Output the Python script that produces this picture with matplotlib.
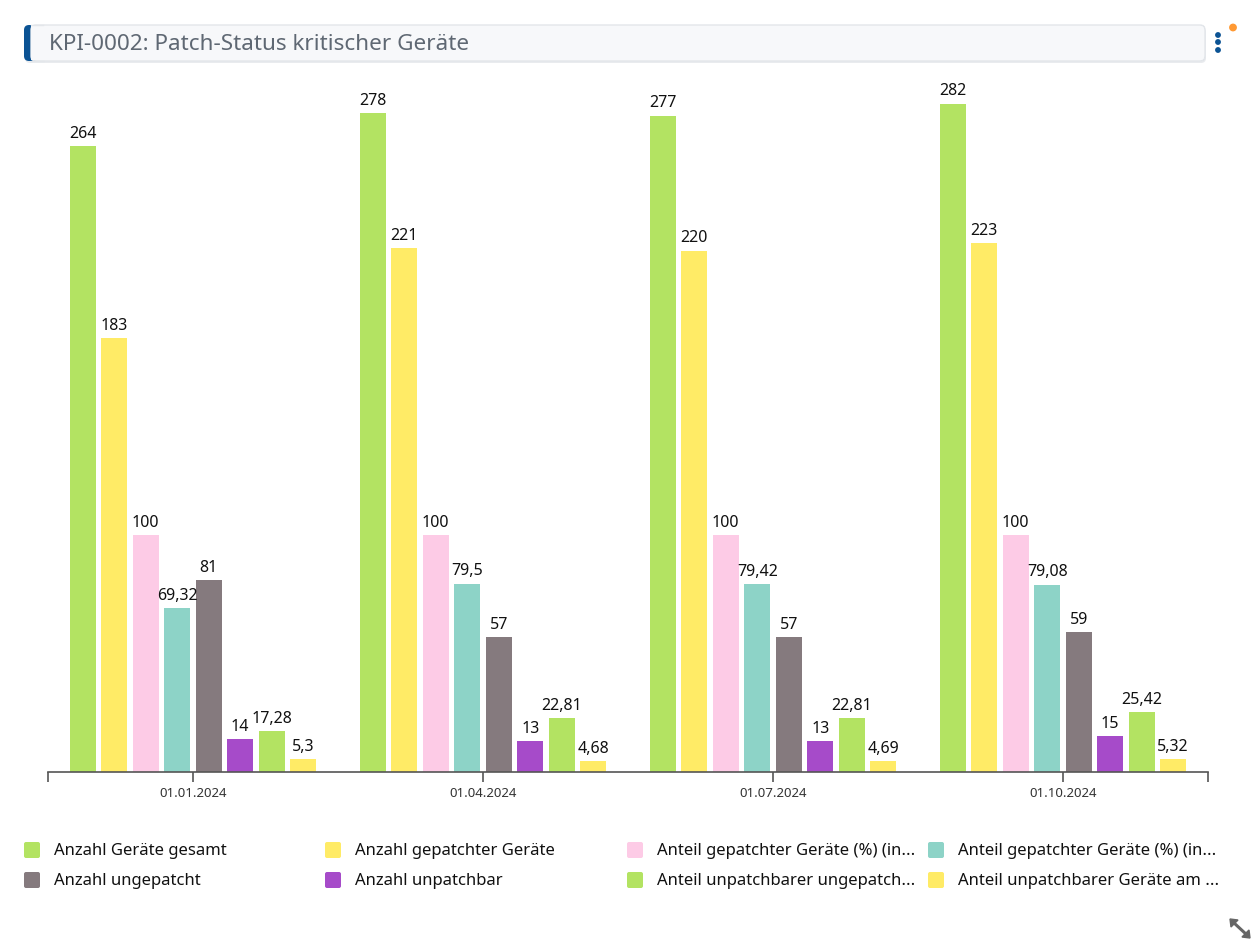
import matplotlib
matplotlib.use("Agg")
import matplotlib.pyplot as plt
from matplotlib.patches import FancyBboxPatch, Rectangle, Polygon
import numpy as np

plt.rcParams['font.family'] = ['Noto Sans', 'DejaVu Sans']

dates = ["01.01.2024", "01.04.2024", "01.07.2024", "01.10.2024"]
series_names = [
    "Anzahl Geräte gesamt",
    "Anzahl gepatchter Geräte",
    "Anteil gepatchter Geräte (%) (in...",
    "Anteil gepatchter Geräte (%) (in...",
    "Anzahl ungepatcht",
    "Anzahl unpatchbar",
    "Anteil unpatchbarer ungepatch...",
    "Anteil unpatchbarer Geräte am ...",
]
colors = ["#b3e362", "#ffeb66", "#fdcbe6", "#8dd3c7", "#857a7e", "#a64bc9", "#b3e362", "#ffeb66"]

s_gesamt = [264, 278, 277, 282]
s_gepatcht = [183, 221, 220, 223]
s_anteil_gep1 = [100, 100, 100, 100]
s_anteil_gep2 = [69.32, 79.5, 79.42, 79.08]
s_ungepatcht = [81, 57, 57, 59]
s_unpatchbar = [14, 13, 13, 15]
s_anteil_unp_ung = [17.28, 22.81, 22.81, 25.42]
s_anteil_unp_ges = [5.3, 4.68, 4.69, 5.32]
series = [s_gesamt, s_gepatcht, s_anteil_gep1, s_anteil_gep2,
          s_ungepatcht, s_unpatchbar, s_anteil_unp_ung, s_anteil_unp_ges]

W, H = 1254, 943
fig = plt.figure(figsize=(W / 100, H / 100), dpi=100)
fig.patch.set_facecolor("white")

# pixel-based overlay for decorations
deco = fig.add_axes([0, 0, 1, 1], zorder=0)
deco.set_xlim(0, W)
deco.set_ylim(H, 0)
deco.axis("off")

# title box (soft shadow, blue accent, light body)
deco.add_patch(FancyBboxPatch((25, 27), 1181, 36, boxstyle="round,pad=0,rounding_size=5",
                              fc="#e9ebee", ec="none"))
deco.add_patch(FancyBboxPatch((24, 25), 1181, 36, boxstyle="round,pad=0,rounding_size=5",
                              fc="#0b5394", ec="none"))
deco.add_patch(FancyBboxPatch((31, 25), 1174, 36, boxstyle="round,pad=0,rounding_size=5",
                              fc="#f7f8fa", ec="#e3e6ea", lw=1))
deco.add_patch(Rectangle((31, 25.6), 12, 34.8, fc="#f7f8fa", ec="none"))
deco.plot([31, 43], [25.3, 25.3], color="#e3e6ea", lw=1)
deco.plot([31, 43], [60.7, 60.7], color="#e3e6ea", lw=1)
deco.text(49, 44, "KPI-0002: Patch-Status kritischer Geräte", fontsize=16.2, color="#5f6873",
          va="center", ha="left")

# kebab menu & dot
for yy in (35, 42, 50):
    deco.add_patch(plt.Circle((1218, yy), 2.2, color="#0b5394"))
deco.add_patch(plt.Circle((1233, 27.5), 3.2, color="#ff9933"))

# resize icon
deco.plot([1233, 1247], [922, 935], color="#666666", lw=2.2)
deco.add_patch(Polygon([[1230, 919], [1238, 920], [1231, 927]], closed=True, color="#666666"))
deco.add_patch(Polygon([[1250, 938], [1242, 937], [1249, 930]], closed=True, color="#666666"))

# main chart axes: x from 48 to 1208 px, baseline at y=772
ax_left, ax_right = 48, 1208
base_y, top_y = 772, 80
ax = fig.add_axes([ax_left / W, (H - base_y) / H, (ax_right - ax_left) / W, (base_y - top_y) / H],
                  zorder=1)
ax.patch.set_alpha(0)
ymax = (base_y - top_y) / 2.37
ax.set_ylim(0, ymax)
ax.set_xlim(-0.5, len(dates) - 0.5)

n = len(series)
pitch = 0.1086
width = 0.0897
x = np.arange(len(dates))
for i, (vals, col) in enumerate(zip(series, colors)):
    offs = (i - (n - 1) / 2) * pitch
    ax.bar(x + offs, vals, width=width, color=col, zorder=2)
    for xb, v in zip(x + offs, vals):
        lab = ("%g" % v).replace(".", ",")
        ax.annotate(lab, (xb, v), xytext=(0, 3), textcoords="offset points",
                    ha="center", va="bottom", fontsize=11.5, color="#111111")

for s in ("top", "right", "left"):
    ax.spines[s].set_visible(False)
ax.spines["bottom"].set_color("#555555")
ax.spines["bottom"].set_linewidth(1.2)
ax.set_yticks([])
ax.set_xticks(list(x) + [-0.5, len(dates) - 0.5])
ax.set_xticklabels(dates + ["", ""])
ax.tick_params(axis="x", length=7, width=1.2, color="#555555", labelsize=9.5,
               labelcolor="#333333", pad=4)

# legend
col_x = [24, 325, 627, 928]
row_y = [850, 880]
for i, (name, col) in enumerate(zip(series_names, colors)):
    cx = col_x[i % 4]
    cy = row_y[i // 4]
    deco.add_patch(FancyBboxPatch((cx, cy - 8), 16, 16, boxstyle="round,pad=0,rounding_size=2",
                                  fc=col, ec="none"))
    deco.text(cx + 30, cy + 1, name, fontsize=12, color="#111111", va="center", ha="left")

fig.savefig("out.png", dpi=100, facecolor="white")
